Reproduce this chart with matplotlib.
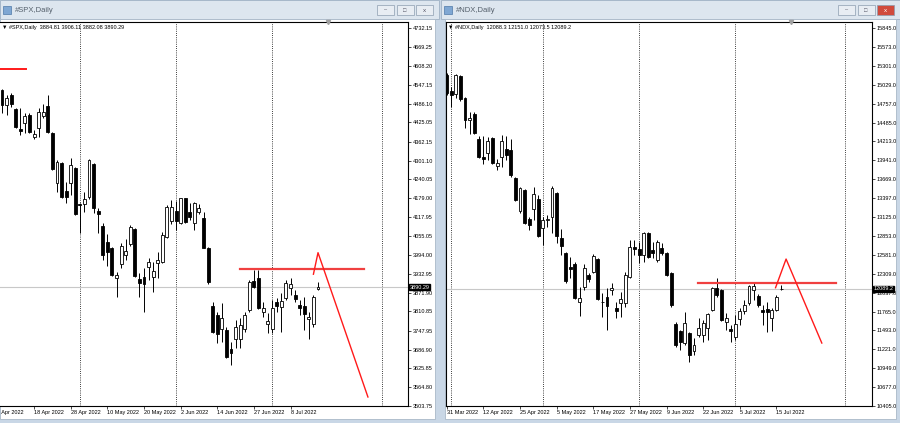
import matplotlib
matplotlib.use('Agg')
import matplotlib.pyplot as plt
from matplotlib.patches import Rectangle
import numpy as np
import pandas as pd

plt.rcParams['font.family'] = ['Liberation Sans', 'DejaVu Sans']

# trading days 31 Mar - 18 Jul 2022
holidays = ['2022-04-15', '2022-05-30', '2022-06-20', '2022-07-04']
days = pd.bdate_range('2022-03-31', '2022-07-18')
days = days[~days.isin(pd.to_datetime(holidays))]

# #SPX daily, 6 Apr - 18 Jul 2022
spx_open = [4531, 4482, 4514, 4468, 4403, 4422, 4450, 4379, 4406, 4446, 4479, 4392, 4227, 4295, 4203, 4230, 4276,
            4160, 4160, 4182, 4290, 4139, 4089, 4036, 4016, 3919, 3964, 3995, 4029, 4078, 3917, 3923, 3957, 3922,
            3967, 3971, 4054, 4105, 4138, 4097, 4179, 4135, 4097, 4133, 4114, 4016, 3830, 3800, 3754, 3751, 3688,
            3722, 3722, 3754, 3816, 3910, 3919, 3810, 3769, 3754, 3843, 3827, 3854, 3886, 3865, 3832, 3830, 3785,
            3769, 3884.81]
spx_high = [4533, 4514, 4520, 4471, 4471, 4455, 4455, 4401, 4471, 4485, 4514, 4395, 4303, 4298, 4233, 4309, 4279,
            4165, 4200, 4305, 4292, 4146, 4097, 4063, 4022, 3940, 4032, 4045, 4092, 4081, 3935, 3951, 3984, 3973,
            4005, 4070, 4157, 4173, 4170, 4181, 4181, 4162, 4168, 4159, 4135, 4022, 3843, 3810, 3837, 3762, 3713,
            3783, 3789, 3810, 3913, 3946, 3946, 3843, 3805, 3848, 3854, 3870, 3913, 3919, 3881, 3848, 3859, 3810,
            3865, 3906.11]
spx_low = [4455, 4450, 4474, 4406, 4385, 4390, 4390, 4370, 4377, 4441, 4390, 4271, 4200, 4179, 4162, 4190, 4125,
           4065, 4135, 4177, 4130, 4067, 3978, 3959, 3926, 3859, 3951, 3978, 4025, 3924, 3859, 3810, 3913, 3873,
           3919, 3967, 4051, 4094, 4076, 4094, 4097, 4108, 4076, 4127, 4016, 3900, 3740, 3707, 3713, 3659, 3637,
           3691, 3691, 3745, 3810, 3886, 3818, 3794, 3740, 3740, 3810, 3745, 3848, 3865, 3843, 3800, 3751, 3722,
           3762, 3882.08]
spx_close = [4482, 4504, 4485, 4412, 4399, 4446, 4393, 4388, 4460, 4458, 4395, 4273, 4298, 4182, 4182, 4287, 4128,
             4156, 4175, 4303, 4146, 4128, 3995, 4005, 3930, 3930, 4024, 4009, 4087, 3926, 3904, 3901, 3973, 3943,
             3978, 4060, 4152, 4152, 4106, 4179, 4101, 4119, 4162, 4148, 4018, 3908, 3745, 3737, 3791, 3664, 3675,
             3762, 3767, 3800, 3908, 3892, 3821, 3821, 3780, 3821, 3830, 3845, 3902, 3899, 3852, 3821, 3802, 3794,
             3859, 3890.29]

# #NDX daily, 31 Mar - 18 Jul 2022
ndx_open = [15169, 14943, 14895, 15154, 14833, 14521, 14603, 14243, 13984, 14051, 14257, 13859, 13984, 14099,
            14089, 13682, 13211, 13514, 13092, 13235, 13379, 12962, 13082, 13130, 13475, 12828, 12612, 12410,
            12449, 11907, 12123, 12290, 12338, 12516, 11907, 11979, 12080, 11811, 11883, 11883, 12266, 12698,
            12664, 12578, 12890, 12650, 12506, 12684, 12602, 12314, 11580, 11484, 11307, 11451, 11197, 11427,
            11427, 11532, 11787, 12108, 12074, 11619, 11513, 11403, 11657, 11772, 11883, 12074, 11993, 11787,
            11801, 11676, 11787, 12088.3]
ndx_high = [15193, 15001, 15183, 15169, 14847, 14641, 14641, 14291, 14291, 14272, 14272, 13955, 14305, 14291,
            14243, 13706, 13552, 13523, 13130, 13552, 13442, 13130, 13154, 13571, 13490, 12948, 12626, 12554,
            12482, 12123, 12449, 12314, 12593, 12530, 12027, 12099, 12170, 11907, 12050, 12338, 12794, 12794,
            12770, 12914, 12914, 12770, 12794, 12746, 12626, 12338, 11619, 11499, 11753, 11465, 11379, 11667,
            11643, 11739, 12122, 12242, 12089, 11739, 11571, 11715, 11811, 11931, 12146, 12170, 12012, 11859,
            11907, 11820, 12003, 12151.0]
ndx_low = [14881, 14713, 14833, 14799, 14401, 14320, 14320, 13969, 13888, 13945, 13888, 13802, 13840, 13945,
           13706, 13360, 13178, 13024, 12938, 13082, 12842, 12722, 12986, 12890, 12746, 12578, 12171, 12243,
           11940, 11700, 12075, 12195, 12314, 11931, 11691, 11499, 12000, 11667, 11691, 11835, 12252, 12578,
           12458, 12482, 12530, 12530, 12482, 12578, 12281, 11835, 11259, 11211, 11283, 11043, 11139, 11403,
           11331, 11355, 11772, 11979, 11628, 11499, 11331, 11355, 11571, 11724, 11859, 11931, 11835, 11571,
           11475, 11484, 11772, 12073.5]
ndx_close = [14905, 14881, 15169, 14818, 14521, 14545, 14329, 13993, 13955, 14224, 13897, 13897, 14224, 14017,
             13730, 13370, 13538, 13034, 13010, 13451, 12852, 13082, 13092, 13538, 12852, 12708, 12209, 12372,
             11955, 11955, 12386, 12228, 12564, 11940, 11902, 11844, 12100, 11772, 11945, 12290, 12698, 12664,
             12578, 12890, 12554, 12602, 12770, 12602, 12290, 11859, 11283, 11331, 11595, 11139, 11283, 11532,
             11595, 11724, 12098, 12003, 11643, 11676, 11484, 11580, 11772, 11859, 12132, 12132, 11859, 11753,
             11753, 11787, 11979, 12089.2]

spx_yticks = ['4732.15', '4669.25', '4608.20', '4547.15', '4486.10', '4425.05', '4362.15', '4301.10', '4240.05',
              '4179.00', '4117.95', '4055.05', '3994.00', '3932.95', '3871.90', '3810.85', '3747.95', '3686.90',
              '3625.85', '3564.80', '3503.75']
ndx_yticks = ['15845.0', '15573.0', '15301.0', '15029.0', '14757.0', '14485.0', '14213.0', '13941.0', '13669.0',
              '13397.0', '13125.0', '12853.0', '12581.0', '12309.0', '12037.0', '11765.0', '11493.0', '11221.0',
              '10949.0', '10677.0', '10405.0']

# hand drawn red lines (price levels)
spx_old_level = 4599
spx_resistance = 3949
spx_path = [3932, 4002, 3533]
ndx_resistance = 12179
ndx_path = [12107, 12520, 11311]


def draw_candles(ax, o, h, l, c):
    o, h, l, c = map(np.asarray, (o, h, l, c))
    x = np.arange(len(o))
    up = c >= o
    ax.vlines(x, l, h, color='black', lw=0.7, zorder=2)
    ax.bar(x[up], (c - o)[up], bottom=o[up], width=0.64, color='white',
           edgecolor='black', lw=0.6, zorder=3)
    ax.bar(x[~up], (o - c)[~up], bottom=c[~up], width=0.64, color='black',
           edgecolor='black', lw=0.6, zorder=3)


def style_chart(ax, name, o, h, l, c, yticks, ylim, xlim, offset, first_tick, fmt):
    draw_candles(ax, o, h, l, c)
    n = len(o)
    ax.set_facecolor('white')
    for s in ax.spines.values():
        s.set_linewidth(0.8)
        s.set_color('black')

    # period separators (month starts + one in the future)
    d = days[offset:]
    seps = [i for i in range(1, n) if d[i].month != d[i - 1].month] + [n - 1 + 14]
    for s in seps:
        ax.axvline(s, color='black', lw=0.6, ls=(0, (1, 1.6)), zorder=1)

    # current price
    last = c[-1]
    ax.axhline(last, color='#c8c8c8', lw=0.8, zorder=1)

    ax.yaxis.tick_right()
    ax.set_yticks([float(t) for t in yticks], yticks)
    ax.tick_params(axis='y', direction='out', length=2.2, width=0.5, pad=1.3,
                   labelsize=4, colors='black')

    pos = list(range(first_tick, n, 8))
    labels = []
    for p in pos:
        dt = days[p + offset]
        labels.append(f'{dt.day} {dt:%b %Y}')
    inside = [(p, t) for p, t in zip(pos, labels) if p >= xlim[0]]
    ax.set_xticks([p for p, _ in inside], [t for _, t in inside])
    for t in ax.get_xticklabels():
        t.set_ha('left')
    ax.tick_params(axis='x', direction='out', length=2.2, width=0.5, pad=0.8,
                   labelsize=4, colors='black')
    # date label that starts left of the visible area, cut by the window edge
    for p, t in zip(pos, labels):
        if p < xlim[0]:
            ax.annotate(t, xy=(p, 0), xycoords=('data', 'axes fraction'), xytext=(0, -3.0),
                        textcoords='offset points', va='top', ha='left', fontsize=4,
                        annotation_clip=False)
    ax.set_xlim(*xlim)
    ax.set_ylim(*ylim)

    ax.annotate(fmt.format(last), xy=(1, last), xycoords=('axes fraction', 'data'),
                xytext=(1.2, 0), textcoords='offset points', va='center', ha='left',
                fontsize=4, color='white', annotation_clip=False, zorder=10,
                bbox=dict(boxstyle='square,pad=0.12', fc='black', ec='black'))

    ax.text(0.004, 0.993, f'\u25bc {name},Daily  ' + ' '.join(fmt.format(v) for v in (o[-1], h[-1], l[-1], c[-1])),
            transform=ax.transAxes, va='top', ha='left', fontsize=4, color='black',
            family=['Liberation Sans', 'DejaVu Sans'])
    ax.plot([n + 1.2], [ylim[1]], marker='v', ms=3, color='#a0a0a0', clip_on=False, zorder=5)


fig = plt.figure(figsize=(9, 4.23), dpi=100)
fig.patch.set_facecolor('#c9d7e6')

bg = fig.add_axes([0, 0, 1, 1], zorder=-5)
bg.set_xlim(0, 900)
bg.set_ylim(423, 0)
bg.axis('off')

# window chrome
for x0, x1, title, red in [(0, 439, '#SPX,Daily', False), (441, 900, '#NDX,Daily', True)]:
    bg.add_patch(Rectangle((x0, 0), x1 - x0, 19, fc='#dde6ef', ec='#9fb1c4', lw=0.6))
    bg.add_patch(Rectangle((x0 + (4 if x0 else 0), 19), x1 - x0 - (8 if x0 else 4), 400, fc='white', ec='#a9b8c8', lw=0.6))
    bg.add_patch(Rectangle((x0 + 3, 6), 8, 8, fc='#7fa7d3', ec='#4f79a8', lw=0.5))
    bg.text(x0 + 15, 11, title, fontsize=5.5, color='#55606c', va='center', ha='left')
    bx = x1 - 62
    for k in range(3):
        fc = '#d04a3c' if (red and k == 2) else '#e8edf3'
        bg.add_patch(Rectangle((bx + k * 19.5, 5), 17, 10, fc=fc, ec='#8c9db0', lw=0.5))
    bg.text(bx + 8.5, 10, '\u2013', fontsize=4, color='#556', ha='center', va='center')
    bg.text(bx + 28, 10, '\u25a1', fontsize=4, color='#556', ha='center', va='center')
    bg.text(bx + 47.5, 10, 'x', fontsize=4.5, color='white' if red else '#556', ha='center', va='center')

ax1 = fig.add_axes([0 / 900, 17 / 423, 408 / 900, 384 / 423])
ax2 = fig.add_axes([446 / 900, 17 / 423, 426 / 900, 384 / 423])

style_chart(ax1, '#SPX', spx_open, spx_high, spx_low, spx_close, spx_yticks,
            (3503.75, 4751.6), (-0.44, 88.65), 4, -1, '{:.2f}')
style_chart(ax2, '#NDX', ndx_open, ndx_high, ndx_low, ndx_close, ndx_yticks,
            (10405.0, 15931.4), (-0.15, 92.86), 0, 0, '{:.1f}')
ax1.spines['left'].set_visible(False)

red = '#ff1a1a'
ax1.plot([-0.44, 5.2], [spx_old_level] * 2, color=red, lw=1.4, zorder=6)
ax1.plot([52.0, 79.0], [spx_resistance] * 2, color='#f04040', lw=1.6, zorder=6)
ax1.plot([68.0, 69.0, 79.9], spx_path, color=red, lw=1.0, zorder=6)
ax2.plot([54.9, 85.0], [ndx_resistance] * 2, color='#f04040', lw=1.6, zorder=6)
ax2.plot([71.8, 74.1, 81.9], ndx_path, color=red, lw=1.0, zorder=6)

fig.savefig('out.png', dpi=100, facecolor=fig.get_facecolor())
